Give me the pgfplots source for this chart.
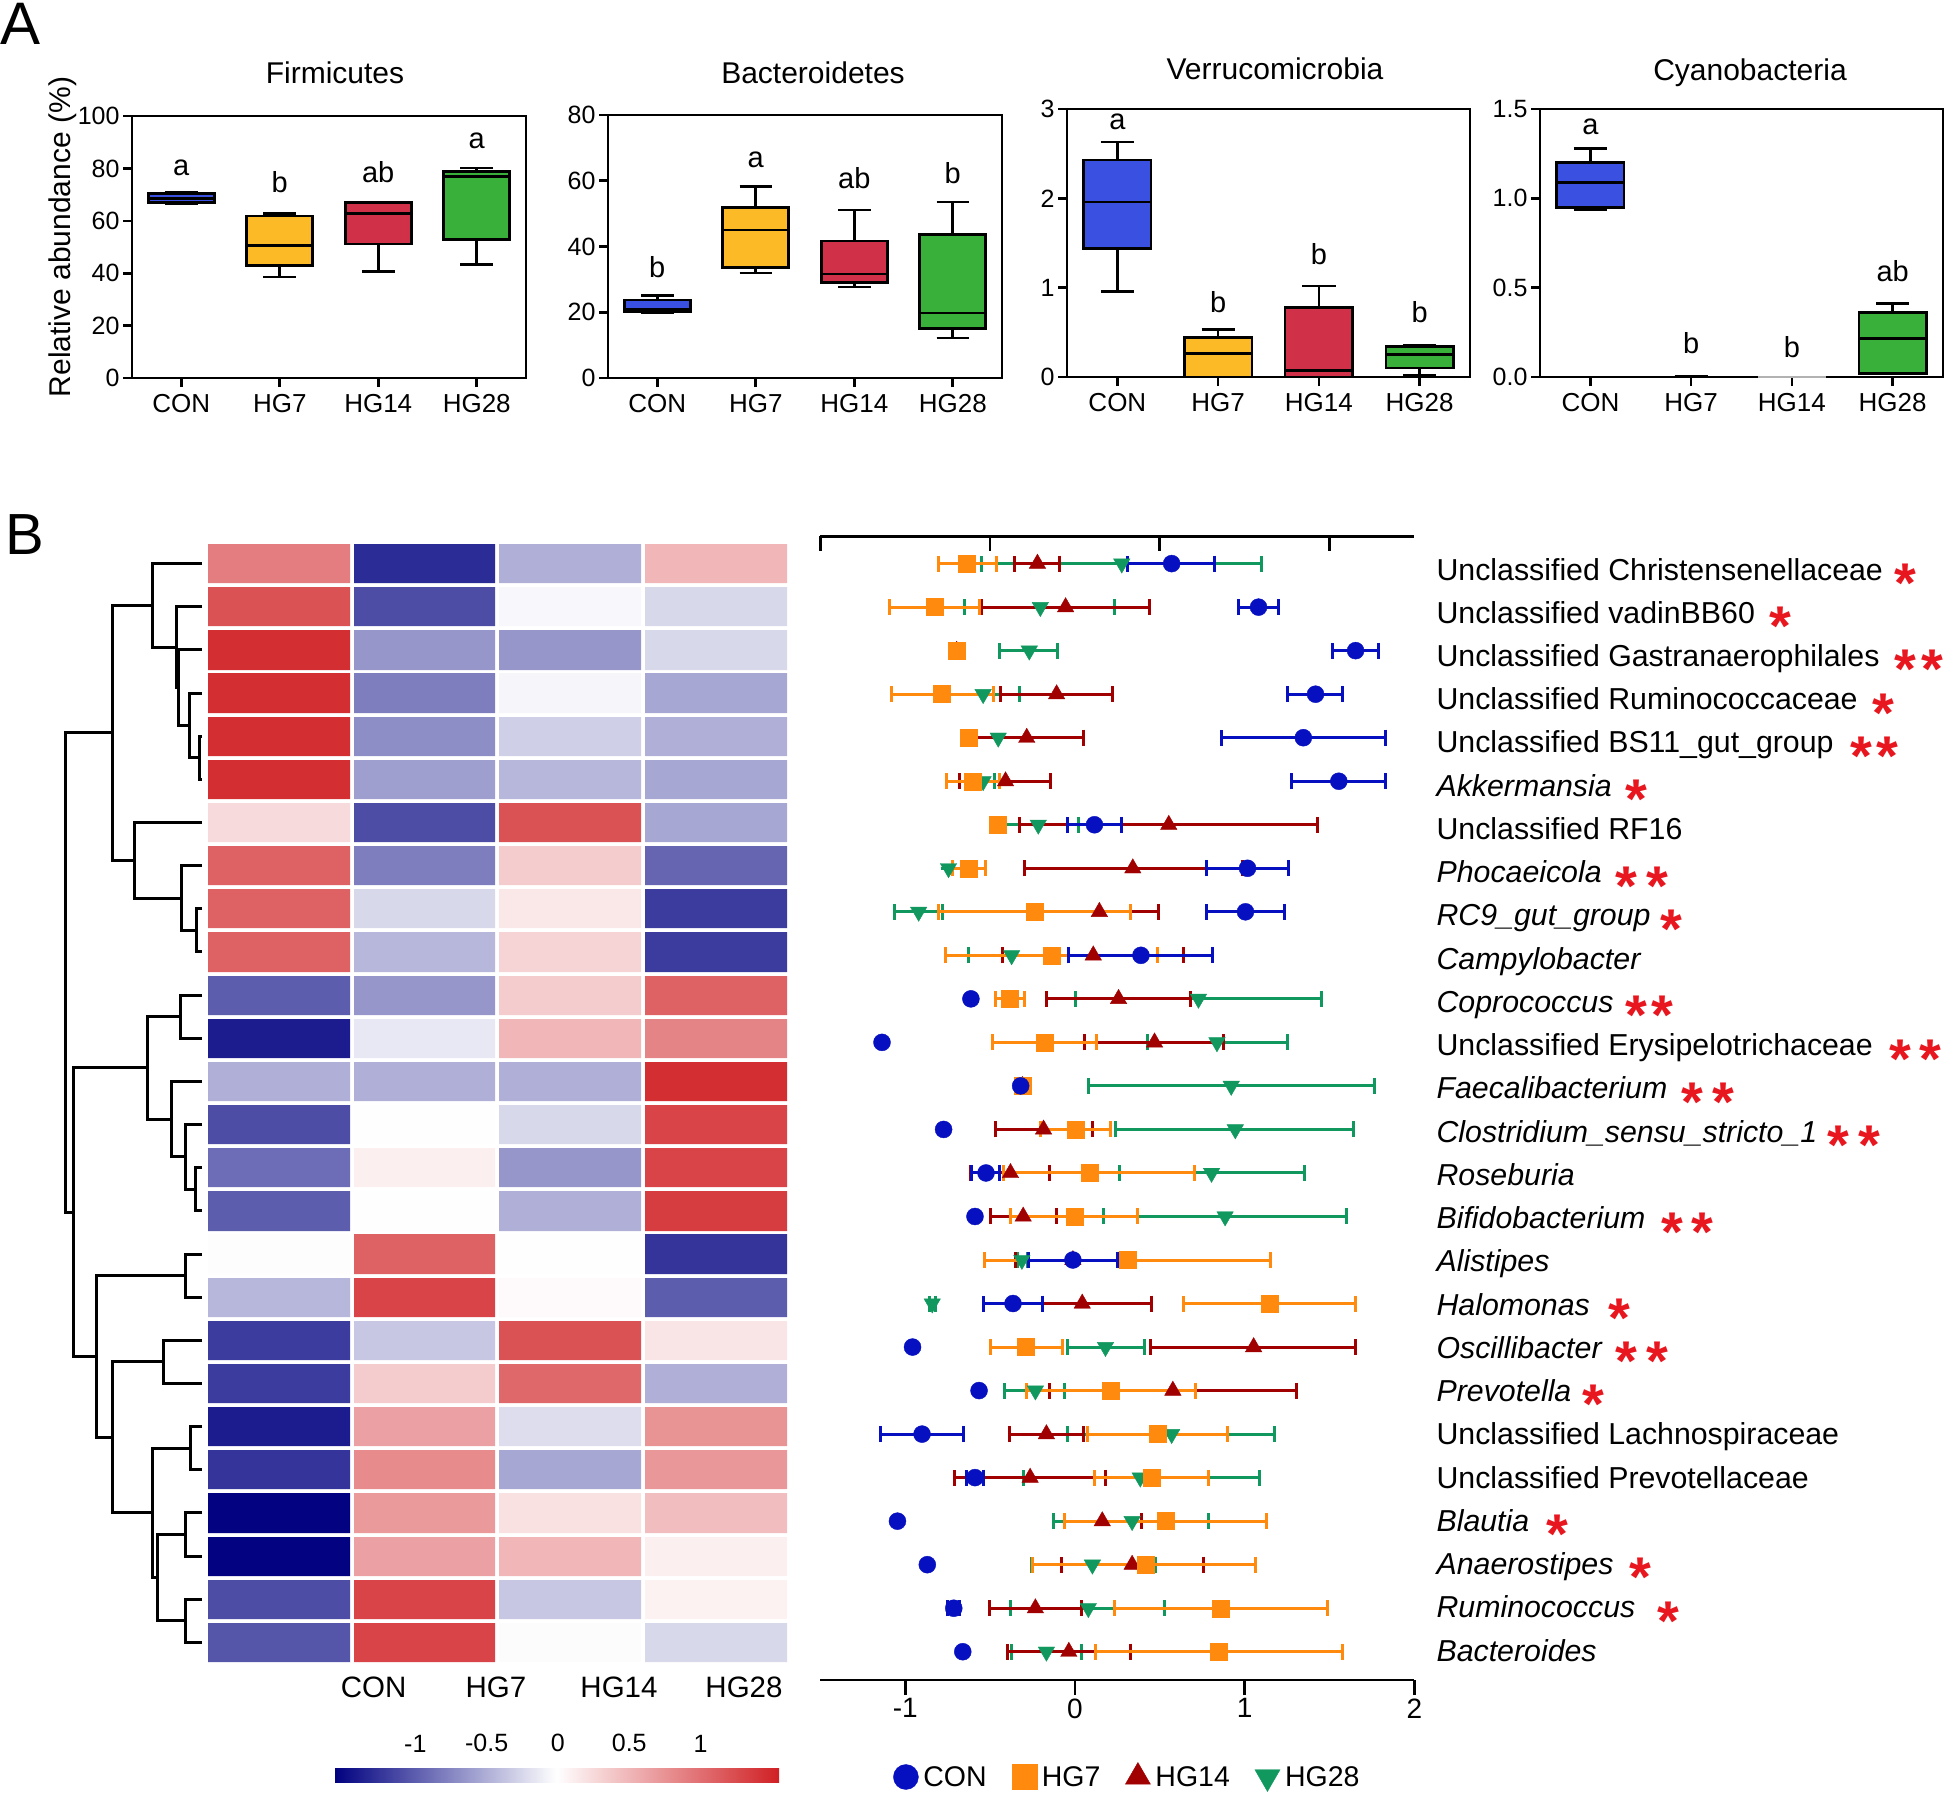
\documentclass[border=0pt]{standalone}
\usepackage{fontspec}
\setmainfont{Liberation Sans}
\usepackage{pgfplots}
\usepackage{pgfplotstable}
\pgfplotsset{compat=1.18}
\usepgfplotslibrary{statistics}

\definecolor{bxcon}{HTML}{3A50E0}
\definecolor{bxhg7}{HTML}{FCBA26}
\definecolor{bxhg14}{HTML}{D03048}
\definecolor{bxhg28}{HTML}{38B03A}
\definecolor{dcon}{HTML}{0610C0}
\definecolor{dhg7}{HTML}{FF8A0E}
\definecolor{dhg14}{HTML}{A00000}
\definecolor{dhg28}{HTML}{11985E}
\definecolor{starred}{HTML}{E8161E}

\newcommand{\fs}[1]{\fontsize{#1}{#1}\selectfont}

\pgfplotsset{
  boxax/.style={
    scale only axis, anchor=south west, clip=false,
    xmin=-0.5, xmax=3.5, xtick={0,1,2,3},
    xticklabels={CON,HG7,HG14,HG28},
    axis line style={line width=2.6pt},
    tick style={line width=2.6pt, black},
    tick align=outside, tick pos=left, major tick length=9pt,
    ticklabel style={font=\fs{25}},
    xticklabel style={font=\fs{26}, yshift=-4pt},
    /pgf/number format/assume math mode=true,
    boxplot/draw direction=y,
    boxplot/box extend=0.67,
    boxplot/whisker extend=0.33,
  },
  bx/.style={draw=black, line width=2.6pt, fill=#1},
  erb/.style={only marks, color=#1, mark options={fill=#1, draw=#1},
    error bars/x dir=both, error bars/x explicit,
    error bars/error mark=|,
    error bars/error bar style={line width=3pt, #1},
    error bars/error mark options={line width=3pt, mark size=8pt, #1}},
}

% heatmap values (z-scores), x = group, y = -row
\pgfplotstableread{
x y c
0 0 0.9
1 0 -1.3
2 0 -0.5
3 0 0.5
0 -1 1.2
1 -1 -1.1
2 -1 -0.05
3 -1 -0.25
0 -2 1.45
1 -2 -0.65
2 -2 -0.65
3 -2 -0.25
0 -3 1.45
1 -3 -0.8
2 -3 -0.07
3 -3 -0.55
0 -4 1.45
1 -4 -0.7
2 -4 -0.3
3 -4 -0.5
0 -5 1.45
1 -5 -0.6
2 -5 -0.45
3 -5 -0.55
0 -6 0.25
1 -6 -1.1
2 -6 1.2
3 -6 -0.55
0 -7 1.1
1 -7 -0.8
2 -7 0.35
3 -7 -0.95
0 -8 1.1
1 -8 -0.25
2 -8 0.15
3 -8 -1.2
0 -9 1.1
1 -9 -0.45
2 -9 0.3
3 -9 -1.2
0 -10 -1.0
1 -10 -0.65
2 -10 0.35
3 -10 1.1
0 -11 -1.4
1 -11 -0.15
2 -11 0.5
3 -11 0.85
0 -12 -0.5
1 -12 -0.5
2 -12 -0.5
3 -12 1.45
0 -13 -1.1
1 -13 0.0
2 -13 -0.25
3 -13 1.3
0 -14 -0.9
1 -14 0.1
2 -14 -0.65
3 -14 1.3
0 -15 -1.0
1 -15 0.0
2 -15 -0.5
3 -15 1.35
0 -16 -0.02
1 -16 1.1
2 -16 0.0
3 -16 -1.25
0 -17 -0.45
1 -17 1.3
2 -17 0.03
3 -17 -1.0
0 -18 -1.2
1 -18 -0.35
2 -18 1.2
3 -18 0.17
0 -19 -1.2
1 -19 0.35
2 -19 1.05
3 -19 -0.5
0 -20 -1.4
1 -20 0.65
2 -20 -0.22
3 -20 0.75
0 -21 -1.25
1 -21 0.8
2 -21 -0.55
3 -21 0.72
0 -22 -1.55
1 -22 0.7
2 -22 0.2
3 -22 0.45
0 -23 -1.55
1 -23 0.65
2 -23 0.5
3 -23 0.1
0 -24 -1.1
1 -24 1.3
2 -24 -0.35
3 -24 0.08
0 -25 -1.05
1 -25 1.3
2 -25 -0.03
3 -25 -0.25
}\heat

% mean and range per row: r = -row, m = mean, lo/hi = bar ends
\pgfplotstableread{
r m lo hi
0 0.570 0.3125 0.822
-1 1.082 0.962 1.202
-2 1.654 1.519 1.791
-3 1.418 1.255 1.579
-4 1.346 0.865 1.832
-5 1.555 1.279 1.832
-6 0.115 -0.041 0.272
-7 1.017 0.774 1.257
-8 1.005 0.776 1.233
-9 0.389 -0.036 0.8125
-10 -0.613 -0.613 -0.613
-11 -1.137 -1.137 -1.137
-12 -0.320 -0.320 -0.320
-13 -0.774 -0.774 -0.774
-14 -0.524 -0.608 -0.445
-15 -0.589 -0.589 -0.589
-16 -0.012 -0.276 0.252
-17 -0.365 -0.541 -0.192
-18 -0.957 -0.957 -0.957
-19 -0.565 -0.565 -0.565
-20 -0.901 -1.147 -0.654
-21 -0.589 -0.640 -0.540
-22 -1.046 -1.046 -1.046
-23 -0.870 -0.870 -0.870
-24 -0.714 -0.750 -0.680
-25 -0.661 -0.661 -0.661
}\dcon

\pgfplotstableread{
r m lo hi
0 -0.637 -0.805 -0.462
-1 -0.829 -1.094 -0.565
-2 -0.697 -0.697 -0.697
-3 -0.786 -1.082 -0.481
-4 -0.625 -0.625 -0.625
-5 -0.601 -0.757 -0.445
-6 -0.457 -0.457 -0.457
-7 -0.625 -0.721 -0.529
-8 -0.238 -0.805 0.325
-9 -0.137 -0.764 0.488
-10 -0.385 -0.469 -0.296
-11 -0.180 -0.488 0.125
-12 -0.305 -0.305 -0.305
-13 0.002 -0.204 0.209
-14 0.089 -0.420 0.702
-15 -0.002 -0.377 0.368
-16 0.3125 -0.534 1.154
-17 1.147 0.637 1.654
-18 -0.288 -0.500 -0.072
-19 0.209 -0.288 0.709
-20 0.488 0.072 0.897
-21 0.450 0.113 0.788
-22 0.536 -0.060 1.130
-23 0.416 -0.248 1.065
-24 0.858 0.233 1.486
-25 0.849 0.120 1.575
}\dhgseven

\pgfplotstableread{
r m lo hi
0 -0.221 -0.356 -0.091
-1 -0.055 -0.548 0.4375
-2 -0.697 -0.697 -0.697
-3 -0.108 -0.4375 0.224
-4 -0.284 -0.621 0.053
-5 -0.409 -0.680 -0.144
-6 0.553 -0.325 1.430
-7 0.341 -0.300 0.986
-8 0.144 -0.205 0.493
-9 0.108 -0.425 0.637
-10 0.257 -0.168 0.680
-11 0.469 0.055 0.877
-12 -0.310 -0.310 -0.310
-13 -0.185 -0.469 0.103
-14 -0.380 -0.613 -0.151
-15 -0.305 -0.500 -0.108
-16 -0.012 -0.353 0.330
-17 0.043 -0.365 0.452
-18 1.053 0.445 1.654
-19 0.577 -0.151 1.303
-20 -0.168 -0.385 0.053
-21 -0.264 -0.709 0.180
-22 0.161 -0.060 0.392
-23 0.337 -0.077 0.757
-24 -0.233 -0.505 0.041
-25 -0.036 -0.397 0.325
}\dhgfourteen

\pgfplotstableread{
r m lo hi
0 0.276 -0.548 1.100
-1 -0.204 -0.649 0.236
-2 -0.269 -0.445 -0.101
-3 -0.541 -0.756 -0.325
-4 -0.452 -0.452 -0.452
-5 -0.541 -0.600 -0.474
-6 -0.216 -0.452 0.019
-7 -0.745 -0.745 -0.745
-8 -0.921 -1.065 -0.781
-9 -0.373 -0.625 -0.120
-10 0.728 0.005 1.454
-11 0.837 0.428 1.250
-12 0.921 0.079 1.767
-13 0.945 0.240 1.642
-14 0.805 0.264 1.351
-15 0.885 0.168 1.603
-16 -0.3125 -0.340 -0.280
-17 -0.841 -0.860 -0.820
-18 0.180 -0.043 0.409
-19 -0.233 -0.413 -0.060
-20 0.570 -0.041 1.178
-21 0.385 -0.305 1.089
-22 0.337 -0.127 0.788
-23 0.103 -0.257 0.474
-24 0.079 -0.377 0.529
-25 -0.168 -0.373 0.036
}\dhgtwentyeight

\begin{document}
\begin{tikzpicture}
\path[use as bounding box] (0,0) rectangle (1944pt,-1797pt);

% ---------------- panel A ----------------
\node[anchor=north west, inner sep=0, font=\fs{60}] at (0pt,-3pt) {A};
\node[anchor=base, rotate=90, font=\fs{30}] at (70pt,-237pt) {Relative abundance (\%)};
\node[anchor=base, font=\fs{30}] at (335pt,-83pt) {Firmicutes};
\node[anchor=base, font=\fs{30}] at (813pt,-83pt) {Bacteroidetes};
\node[anchor=base, font=\fs{30}] at (1275pt,-79pt) {Verrucomicrobia};
\node[anchor=base, font=\fs{30}] at (1750pt,-80pt) {Cyanobacteria};

\begin{axis}[boxax, at={(132pt,-378pt)}, width=394pt, height=262pt,
  ymin=0, ymax=100, ytick={0,20,...,100}]
\addplot[bx=bxcon, boxplot prepared={draw position=0, median=68.4, upper quartile=70.4, lower quartile=67.1, upper whisker=70.8, lower whisker=66.6}] coordinates {};
\addplot[bx=bxhg7, boxplot prepared={draw position=1, median=50.6, upper quartile=61.8, lower quartile=42.9, upper whisker=62.8, lower whisker=38.5}] coordinates {};
\addplot[bx=bxhg14, boxplot prepared={draw position=2, median=62.8, upper quartile=66.9, lower quartile=51.1, upper whisker=67.1, lower whisker=40.7}] coordinates {};
\addplot[bx=bxhg28, boxplot prepared={draw position=3, median=76.9, upper quartile=78.8, lower quartile=52.8, upper whisker=80.1, lower whisker=43.3}] coordinates {};
\node[font=\fs{29}] at (axis cs:0,80.3) {a};
\node[font=\fs{29}] at (axis cs:1,74.6) {b};
\node[font=\fs{29}] at (axis cs:2,78.4) {ab};
\node[font=\fs{29}] at (axis cs:3,90.5) {a};
\end{axis}

\begin{axis}[boxax, at={(608pt,-378pt)}, width=394pt, height=263pt,
  ymin=0, ymax=80, ytick={0,20,...,80}]
\addplot[bx=bxcon, boxplot prepared={draw position=0, median=20.8, upper quartile=23.7, lower quartile=20.1, upper whisker=25.1, lower whisker=19.9}] coordinates {};
\addplot[bx=bxhg7, boxplot prepared={draw position=1, median=45.0, upper quartile=51.9, lower quartile=33.6, upper whisker=58.2, lower whisker=32.0}] coordinates {};
\addplot[bx=bxhg14, boxplot prepared={draw position=2, median=31.6, upper quartile=41.7, lower quartile=29.1, upper whisker=51.1, lower whisker=27.7}] coordinates {};
\addplot[bx=bxhg28, boxplot prepared={draw position=3, median=19.8, upper quartile=43.7, lower quartile=15.0, upper whisker=53.5, lower whisker=12.2}] coordinates {};
\node[font=\fs{29}] at (axis cs:0,33.8) {b};
\node[font=\fs{29}] at (axis cs:1,66.5) {a};
\node[font=\fs{29}] at (axis cs:2,60.7) {ab};
\node[font=\fs{29}] at (axis cs:3,62.2) {b};
\end{axis}

\begin{axis}[boxax, at={(1067pt,-377pt)}, width=403pt, height=268pt,
  ymin=0, ymax=3, ytick={0,1,2,3}]
\addplot[bx=bxcon, boxplot prepared={draw position=0, median=1.96, upper quartile=2.43, lower quartile=1.44, upper whisker=2.63, lower whisker=0.96}] coordinates {};
\addplot[bx=bxhg7, boxplot prepared={draw position=1, median=0.26, upper quartile=0.44, lower quartile=0.0, upper whisker=0.53, lower whisker=0.0}] coordinates {};
\addplot[bx=bxhg14, boxplot prepared={draw position=2, median=0.07, upper quartile=0.78, lower quartile=0.0, upper whisker=1.02, lower whisker=0.0}] coordinates {};
\addplot[bx=bxhg28, boxplot prepared={draw position=3, median=0.25, upper quartile=0.34, lower quartile=0.10, upper whisker=0.36, lower whisker=0.02}] coordinates {};
\node[font=\fs{29}] at (axis cs:0,2.86) {a};
\node[font=\fs{29}] at (axis cs:1,0.84) {b};
\node[font=\fs{29}] at (axis cs:2,1.37) {b};
\node[font=\fs{29}] at (axis cs:3,0.73) {b};
\end{axis}

\begin{axis}[boxax, at={(1540pt,-377pt)}, width=403pt, height=268pt,
  ymin=0, ymax=1.5, ytick={0,0.5,1,1.5}, yticklabels={0.0,0.5,1.0,1.5}]
\addplot[bx=bxcon, boxplot prepared={draw position=0, median=1.09, upper quartile=1.20, lower quartile=0.95, upper whisker=1.28, lower whisker=0.935}] coordinates {};
\addplot[bx=bxhg7, line width=1.2pt, boxplot prepared={draw position=1, median=0.003, upper quartile=0.005, lower quartile=0.0, upper whisker=0.006, lower whisker=0.0}] coordinates {};
\addplot[bx=bxhg14, line width=1pt, draw=gray!60, boxplot prepared={draw position=2, median=0.002, upper quartile=0.003, lower quartile=0.0, upper whisker=0.004, lower whisker=0.0}] coordinates {};
\addplot[bx=bxhg28, boxplot prepared={draw position=3, median=0.216, upper quartile=0.36, lower quartile=0.02, upper whisker=0.41, lower whisker=0.02}] coordinates {};
\node[font=\fs{29}] at (axis cs:0,1.40) {a};
\node[font=\fs{29}] at (axis cs:1,0.19) {b};
\node[font=\fs{29}] at (axis cs:2,0.17) {b};
\node[font=\fs{29}] at (axis cs:3,0.59) {ab};
\end{axis}

% ---------------- panel B ----------------
\node[anchor=north west, inner sep=0, font=\fs{58}] at (5pt,-514pt) {B};

% dendrogram
\begin{axis}[at={(0pt,-1664pt)}, anchor=south west, scale only axis,
  width=206pt, height=1122pt, xmin=0, xmax=206, ymin=-25.5, ymax=0.5, hide axis]
\addplot[black, line width=3pt, no marks, unbounded coords=jump] coordinates {
 (202,-4) (199,-4) (199,-5) (202,-5) (0,nan)
 (202,-3) (189,-3) (189,-4.5) (199,-4.5) (0,nan)
 (202,-2) (178.6,-2) (178.6,-3.75) (189,-3.75) (0,nan)
 (202,-1) (176,-1) (176,-2.875) (178.6,-2.875) (0,nan)
 (202,0) (152,0) (152,-1.9375) (176,-1.9375) (0,nan)
 (202,-8) (196,-8) (196,-9) (202,-9) (0,nan)
 (202,-7) (181,-7) (181,-8.5) (196,-8.5) (0,nan)
 (202,-6) (134,-6) (134,-7.75) (181,-7.75) (0,nan)
 (152,-0.96875) (112,-0.96875) (112,-6.875) (134,-6.875) (0,nan)
 (202,-10) (180,-10) (180,-11) (202,-11) (0,nan)
 (202,-14) (195.4,-14) (195.4,-15) (202,-15) (0,nan)
 (202,-13) (185,-13) (185,-14.5) (195.4,-14.5) (0,nan)
 (202,-12) (171,-12) (171,-13.75) (185,-13.75) (0,nan)
 (180,-10.5) (147,-10.5) (147,-12.875) (171,-12.875) (0,nan)
 (202,-16) (185,-16) (185,-17) (202,-17) (0,nan)
 (202,-18) (163,-18) (163,-19) (202,-19) (0,nan)
 (202,-20) (190,-20) (190,-21) (202,-21) (0,nan)
 (202,-22) (185,-22) (185,-23) (202,-23) (0,nan)
 (202,-24) (185,-24) (185,-25) (202,-25) (0,nan)
 (185,-22.5) (157,-22.5) (157,-24.5) (185,-24.5) (0,nan)
 (190,-20.5) (152,-20.5) (152,-23.5) (157,-23.5) (0,nan)
 (163,-18.5) (112,-18.5) (112,-22) (152,-22) (0,nan)
 (185,-16.5) (96,-16.5) (96,-20.25) (112,-20.25) (0,nan)
 (147,-11.6875) (73,-11.6875) (73,-18.375) (96,-18.375) (0,nan)
 (112,-3.921875) (65,-3.921875) (65,-15.03125) (73,-15.03125)
};
\end{axis}

% heatmap + colour bar
\begin{axis}[at={(206pt,-1664pt)}, anchor=south west, scale only axis,
  width=582.6pt, height=1122pt, xmin=-0.5, xmax=3.5, ymin=-25.5, ymax=0.5,
  axis line style={draw=none}, xtick=\empty, ytick=\empty, clip=false,
  colormap={hm}{rgb255=(0,0,128) rgb255=(255,255,255) rgb255=(208,32,36)},
  point meta min=-1.57, point meta max=1.55,
  colorbar horizontal,
  colorbar style={at={(parent axis.south west)}, anchor=north west,
    xshift=128pt, yshift=-83pt, scale only axis, width=445pt, height=27pt,
    xtick={-1,-0.5,0,0.5,1}, xticklabels={-1,-0.5,0,0.5,1},
    xticklabel pos=upper, axis line style={draw=none}, major tick length=0pt,
    ticklabel style={font=\fs{25}}},
]
\addplot[scatter, only marks, mark=square*, mark size=1pt, point meta=explicit,
  scatter/use mapped color={draw=mapped color, fill=mapped color},
  mark options={xscale=70.8, yscale=19.6, line width=0.01pt}]
  table[x=x, y=y, meta=c] \heat;
\end{axis}
\node[anchor=base, font=\fs{29.5}] at (373.7pt,-1697pt) {CON};
\node[anchor=base, font=\fs{29.5}] at (496pt,-1697pt) {HG7};
\node[anchor=base, font=\fs{29.5}] at (619pt,-1697pt) {HG14};
\node[anchor=base, font=\fs{29.5}] at (744pt,-1697pt) {HG28};

% top axis of the dot plot
\begin{axis}[at={(820.4pt,-1680pt)}, anchor=south west, scale only axis,
  width=593.9pt, height=1143.6pt, xmin=-1.5, xmax=2, ymin=0, ymax=1,
  axis x line*=top, axis y line=none, axis line style={line width=2.8pt},
  xtick={-1.5,-0.5,0.5,1.5}, xticklabels={}, tick align=inside,
  major tick length=15pt, tick style={line width=2.8pt, black}]
\end{axis}

% dot plot with error bars
\begin{axis}[at={(820.4pt,-1680pt)}, anchor=south west, scale only axis,
  width=593.9pt, height=1143.6pt, xmin=-1.5, xmax=2, ymin=-25.65, ymax=0.625,
  axis x line*=bottom, axis y line=none, axis line style={line width=2.8pt},
  xtick={-1,0,1,2}, xticklabels={-1,0,1,2}, ytick=\empty,
  tick align=outside, major tick length=15pt, tick style={line width=2.8pt, black},
  ticklabel style={font=\fs{28}}, clip=false,
  legend columns=4, reverse legend,
  legend style={at={(0.517,-0.0848)}, anchor=center, draw=none, fill=none,
    font=\fs{28.5},
    /tikz/every odd column/.append style={column sep=3pt},
    /tikz/every even column/.append style={column sep=23pt}},
]
\addplot[erb=dhg28, mark=triangle*, mark size=9.5pt, mark options={rotate=180},
  legend image post style={mark size=14.5pt}]
  table[x=m, y=r, x error plus expr=\thisrow{hi}-\thisrow{m},
    x error minus expr=\thisrow{m}-\thisrow{lo}] \dhgtwentyeight;
\addplot[erb=dhg14, mark=triangle*, mark size=9.5pt,
  legend image post style={mark size=14.5pt}]
  table[x=m, y=r, x error plus expr=\thisrow{hi}-\thisrow{m},
    x error minus expr=\thisrow{m}-\thisrow{lo}] \dhgfourteen;
\addplot[erb=dhg7, mark=square*, mark size=8.5pt,
  legend image post style={mark size=12.5pt}]
  table[x=m, y=r, x error plus expr=\thisrow{hi}-\thisrow{m},
    x error minus expr=\thisrow{m}-\thisrow{lo}] \dhgseven;
\addplot[erb=dcon, mark=*, mark size=8.5pt,
  legend image post style={mark size=12.5pt}]
  table[x=m, y=r, x error plus expr=\thisrow{hi}-\thisrow{m},
    x error minus expr=\thisrow{m}-\thisrow{lo}] \dcon;
\legend{HG28,HG14,HG7,CON}
\end{axis}

% row names
\foreach \t [count=\i from 0] in {
  Unclassified Christensenellaceae, Unclassified vadinBB60,
  Unclassified Gastranaerophilales, Unclassified Ruminococcaceae,
  Unclassified BS11\_gut\_group, \textit{Akkermansia}, Unclassified RF16,
  \textit{Phocaeicola}, \textit{RC9\_gut\_group}, \textit{Campylobacter},
  \textit{Coprococcus}, Unclassified Erysipelotrichaceae,
  \textit{Faecalibacterium}, \textit{Clostridium\_sensu\_stricto\_1},
  \textit{Roseburia}, \textit{Bifidobacterium}, \textit{Alistipes},
  \textit{Halomonas}, \textit{Oscillibacter}, \textit{Prevotella},
  Unclassified Lachnospiraceae, Unclassified Prevotellaceae,
  \textit{Blautia}, \textit{Anaerostipes}, \textit{Ruminococcus},
  \textit{Bacteroides}}
  \node[anchor=base west, inner sep=0, font=\fs{30.3}] at (1436.4pt, {-(580+43.24*\i)*1pt}) {\t};

% significance stars
\foreach \x/\r in {1905.6/0, 1780/1, 1904.9/2, 1932.6/2, 1883/3, 1861.5/4,
  1887.5/4, 1636.6/5, 1626/7, 1657.5/7, 1671.7/8, 1636/10, 1662.7/10, 1900/11,
  1930/11, 1692/12, 1723.4/12, 1838/13, 1869/13, 1672/15, 1702.6/15, 1619/17,
  1626/18, 1657.8/18, 1593/19, 1557/22, 1640/23, 1668/24}
  \node[anchor=base, inner sep=0, font=\fs{56}\bfseries, text=starred] at ({\x pt}, {-(580+43.24*\r+22.4)*1pt}) {*};
\end{tikzpicture}
\end{document}
